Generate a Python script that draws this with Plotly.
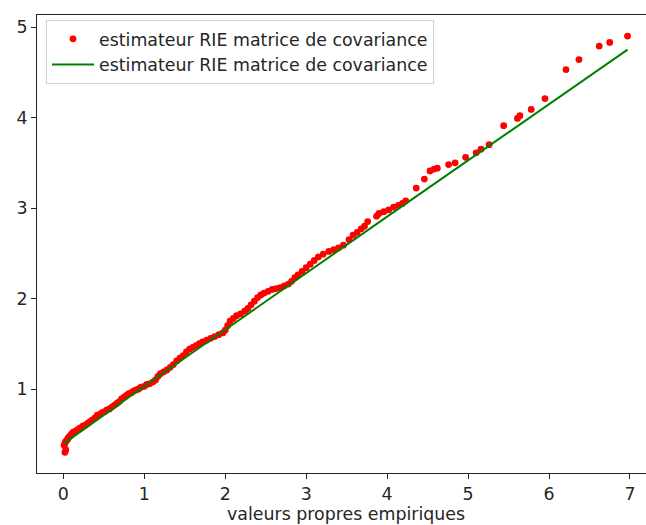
import plotly.graph_objects as go

# Red points: estimated eigenvalue estimator vs empirical eigenvalues
pts_x = [0.02, 0.03, 0.01, 0.02, 0.03, 0.05, 0.06, 0.08, 0.10, 0.12, 0.14, 0.16, 0.19, 0.21, 0.24,
         0.27, 0.30, 0.33, 0.36, 0.39, 0.42, 0.45, 0.48, 0.51, 0.54, 0.57, 0.60, 0.63, 0.66, 0.69,
         0.72, 0.75, 0.78, 0.81, 0.84, 0.87, 0.90, 0.93, 0.96, 1.00, 1.03, 1.07, 1.11, 1.14, 1.17,
         1.20, 1.24, 1.28, 1.32, 1.36, 1.40, 1.44, 1.48, 1.52, 1.56, 1.60, 1.64, 1.68, 1.72, 1.77,
         1.82, 1.87, 1.92, 1.97, 2.00, 2.03, 2.06, 2.10, 2.14, 2.19, 2.24, 2.28, 2.32, 2.36, 2.40,
         2.44, 2.48, 2.53, 2.58, 2.63, 2.68, 2.73, 2.78, 2.82, 2.86, 2.90, 2.95, 3.00, 3.05, 3.10,
         3.15, 3.21, 3.28, 3.34, 3.40, 3.46, 3.53, 3.58, 3.63, 3.68, 3.72, 3.76, 3.87, 3.90, 3.96,
         4.02, 4.08, 4.14, 4.19, 4.23, 4.36, 4.46, 4.53, 4.58, 4.62, 4.76, 4.84, 4.97, 5.10, 5.16,
         5.26, 5.44, 5.61, 5.64, 5.78, 5.95, 6.21, 6.37, 6.62, 6.75, 6.97]
pts_y = [0.30, 0.33, 0.38, 0.40, 0.42, 0.44, 0.46, 0.48, 0.50, 0.52, 0.53, 0.54, 0.56, 0.57, 0.59,
         0.60, 0.62, 0.64, 0.66, 0.68, 0.71, 0.72, 0.74, 0.75, 0.77, 0.78, 0.80, 0.82, 0.84, 0.86,
         0.89, 0.91, 0.93, 0.95, 0.96, 0.98, 0.99, 1.00, 1.02, 1.03, 1.05, 1.06, 1.08, 1.10, 1.14,
         1.17, 1.19, 1.21, 1.24, 1.27, 1.31, 1.34, 1.37, 1.41, 1.44, 1.46, 1.48, 1.50, 1.52, 1.54,
         1.56, 1.58, 1.60, 1.62, 1.65, 1.70, 1.75, 1.78, 1.81, 1.83, 1.86, 1.89, 1.93, 1.97, 2.01,
         2.04, 2.06, 2.08, 2.10, 2.11, 2.12, 2.14, 2.16, 2.19, 2.23, 2.26, 2.30, 2.34, 2.38, 2.42,
         2.46, 2.49, 2.52, 2.54, 2.56, 2.59, 2.65, 2.70, 2.73, 2.77, 2.80, 2.85, 2.91, 2.94, 2.96,
         2.98, 3.01, 3.03, 3.05, 3.08, 3.22, 3.32, 3.41, 3.43, 3.44, 3.48, 3.50, 3.56, 3.61, 3.65,
         3.70, 3.91, 3.99, 4.02, 4.09, 4.21, 4.53, 4.64, 4.79, 4.83, 4.90]

# Green line
line_x = [0.01, 1.0, 2.0, 4.0, 6.97]
line_y = [0.40, 1.03, 1.655, 2.905, 4.75]

label = "estimateur RIE matrice de covariance"
xlabel = "valeurs propres empiriques"
x_ticks = [0, 1, 2, 3, 4, 5, 6, 7]
y_ticks = [1, 2, 3, 4, 5]

font = "DejaVu Sans"
fs = 17.4
txt = "#262626"

fig = go.Figure()
fig.add_trace(go.Scatter(x=pts_x, y=pts_y, mode="markers", name=label,
                         marker=dict(color="#ff0000", size=6.8, line=dict(width=0))))
fig.add_trace(go.Scatter(x=line_x, y=line_y, mode="lines", name=label,
                         line=dict(color="#008000", width=2)))

fig.update_layout(
    width=646, height=525,
    margin=dict(l=37, r=0, t=15, b=52),
    paper_bgcolor="white", plot_bgcolor="white",
    font=dict(family=font, size=fs, color=txt),
    showlegend=True,
    legend=dict(x=0.0148, y=0.989, xanchor="left", yanchor="top",
                bgcolor="rgba(255,255,255,0.8)", bordercolor="#d0d0d0", borderwidth=1,
                font=dict(family=font, size=fs, color=txt),
                tracegroupgap=0, itemwidth=42),
    xaxis=dict(range=[-0.325, 7.198], tickvals=x_ticks, ticks="outside", ticklen=5,
               tickcolor="#222222", showline=True, linecolor="#222222", linewidth=1,
               mirror=True, showgrid=False, zeroline=False,
               tickfont=dict(family=font, size=fs, color=txt)),
    yaxis=dict(range=[0.072, 5.133], tickvals=y_ticks, ticks="outside", ticklen=5,
               tickcolor="#222222", showline=True, linecolor="#222222", linewidth=1,
               mirror=False, showgrid=False, zeroline=False,
               tickfont=dict(family=font, size=fs, color=txt)),
    annotations=[dict(text=xlabel, xref="paper", yref="paper", x=0.507, y=-0.089,
                      xanchor="center", yanchor="middle", showarrow=False,
                      font=dict(family=font, size=fs, color=txt))],
)

fig.write_html("out.html")
